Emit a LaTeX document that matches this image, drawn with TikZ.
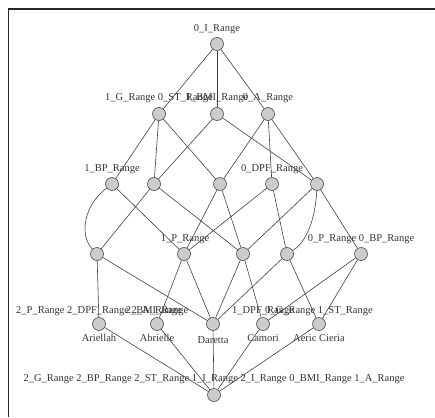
\documentclass[tikz,border=0pt]{standalone}
\usepackage{fontspec}
\setmainfont{Liberation Serif}
\pgfdeclarelayer{bg}
\pgfsetlayers{bg,main}
\begin{document}
\begin{tikzpicture}[x=1pt,y=-1pt,
  cnode/.style={circle,draw=black!70,fill=black!20,line width=0.6pt,minimum size=13pt,inner sep=0pt},
  lab/.style={inner sep=0pt,font=\fontsize{10.5}{12}\selectfont,text=black!80},
  edge/.style={draw=black!75,line width=0.6pt},
  frame/.style={draw=black!85,line width=1.3pt}]
\useasboundingbox (0,0) rectangle (435,417);
\draw[frame] (435,9) -- (8.5,9) -- (8.5,417);
% concept nodes
\node[cnode] (t) at (217,44) {};
\node[cnode] (a1) at (159,114) {};
\node[cnode] (a2) at (217,114) {};
\node[cnode] (a3) at (268,114) {};
\node[cnode] (b1) at (112,184) {};
\node[cnode] (b2) at (154,184) {};
\node[cnode] (b3) at (220,184) {};
\node[cnode] (b4) at (272,184) {};
\node[cnode] (b5) at (317,184) {};
\node[cnode] (c1) at (97,254) {};
\node[cnode] (c2) at (184,254) {};
\node[cnode] (c3) at (243,254) {};
\node[cnode] (c4) at (287,254) {};
\node[cnode] (c5) at (361,254) {};
\node[cnode] (d1) at (99,324) {};
\node[cnode] (d2) at (157,324) {};
\node[cnode] (d3) at (213,324) {};
\node[cnode] (d4) at (263,324) {};
\node[cnode] (d5) at (319,324) {};
\node[cnode] (z) at (214,395) {};
\begin{pgfonlayer}{bg}
% attribute labels
\node[lab] (tl) at (217,29) {0\_I\_Range};
\node[lab] (a1l) at (159,98) {1\_G\_Range 0\_ST\_Range};
\node[lab] (a2l) at (217,98) {1\_BMI\_Range};
\node[lab] (a3l) at (268,98) {0\_A\_Range};
\node[lab] (b1l) at (112,169) {1\_BP\_Range};
\node[lab] (b4l) at (272,169) {0\_DPF\_Range};
\node[lab] (c2l) at (185,239) {1\_P\_Range};
\node[lab] (c5l) at (361,239) {0\_P\_Range 0\_BP\_Range};
\node[lab] (d1l) at (99,311) {2\_P\_Range 2\_DPF\_Range 2\_A\_Range};
\node[lab] (d2l) at (157,311) {2\_BMI\_Range};
\node[lab] (d4l) at (263,311) {1\_DPF\_Range};
\node[lab] (d5l) at (319,311) {0\_G\_Range 1\_ST\_Range};
\node[lab] (zl) at (214,379) {2\_G\_Range 2\_BP\_Range 2\_ST\_Range 1\_I\_Range 2\_I\_Range 0\_BMI\_Range 1\_A\_Range};
% object labels
\node[lab] (o1) at (99,338) {Ariellah};
\node[lab] (o2) at (157,338) {Abrielle};
\node[lab] (o3) at (213,340) {Daretta};
\node[lab] (o4) at (263,338) {Camori};
\node[lab] (o5) at (319,338) {Aeric Cieria};
% edges
\draw[edge] (t) -- (a1);
\draw[edge] (t) -- (a2);
\draw[edge] (t) -- (a3);
\draw[edge] (a1) -- (b1);
\draw[edge] (a1) -- (b2);
\draw[edge] (a1) -- (b3);
\draw[edge] (a2) -- (b2);
\draw[edge] (a2) -- (b5);
\draw[edge] (a3) -- (b3);
\draw[edge] (a3) -- (b4);
\draw[edge] (a3) -- (b5);
\draw[edge] (b1) .. controls (84,205) and (79,235) .. (c1);
\draw[edge] (b1) -- (c2);
\draw[edge] (b2) -- (c1);
\draw[edge] (b2) -- (c3);
\draw[edge] (b3) -- (c2);
\draw[edge] (b3) -- (c3);
\draw[edge] (b4) -- (c2);
\draw[edge] (b4) -- (c4);
\draw[edge] (b5) -- (c3);
\draw[edge] (b5) .. controls (316,210) and (310,240) .. (c4);
\draw[edge] (b5) -- (c5);
\draw[edge] (c1) -- (d1);
\draw[edge] (c1) -- (d3);
\draw[edge] (c2) -- (d2);
\draw[edge] (c2) -- (d3);
\draw[edge] (c3) -- (d3);
\draw[edge] (c3) -- (d4);
\draw[edge] (c4) -- (d3);
\draw[edge] (c4) -- (d5);
\draw[edge] (c5) -- (d4);
\draw[edge] (c5) -- (d5);
\draw[edge] (d1) -- (z);
\draw[edge] (d2) -- (z);
\draw[edge] (d3) -- (z);
\draw[edge] (d4) -- (z);
\draw[edge] (d5) -- (z);
\end{pgfonlayer}
\end{tikzpicture}
\end{document}
